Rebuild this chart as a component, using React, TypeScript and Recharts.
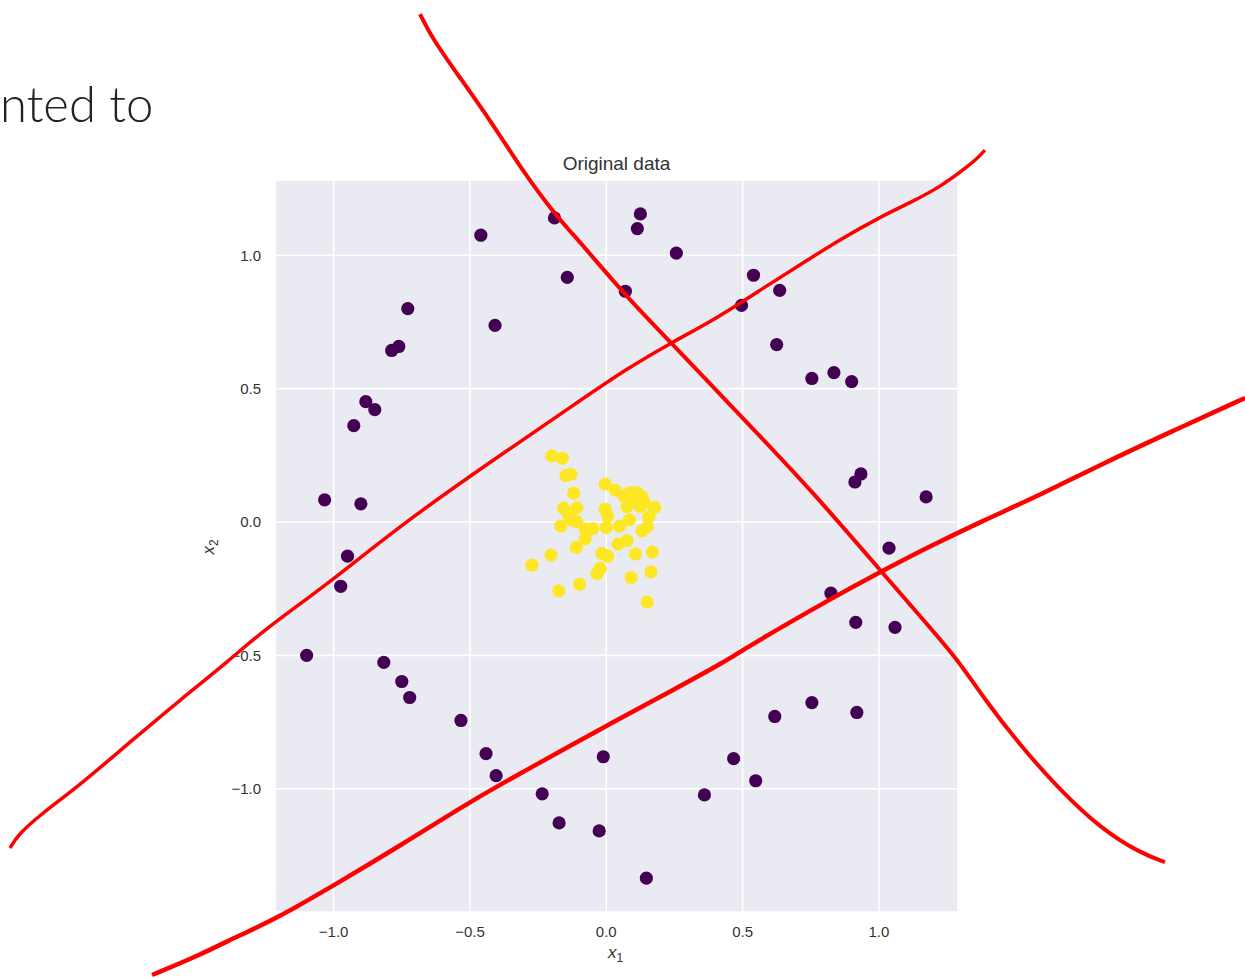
import React from 'react';
import {
  ScatterChart,
  Scatter,
  XAxis,
  YAxis,
  CartesianGrid,
  Label,
  LineChart,
  Line,
} from 'recharts';

// ---------- data ----------
const outerX = [
  -0.46, -0.19, 0.125, 0.114, 0.257, -0.143, 0.07, 0.54, 0.636, 0.496,
  -0.728, -0.408, -0.761, -0.787, 0.625, 0.754, 0.835, 0.9, -0.882, -0.849,
  -0.926, 0.934, 0.912, 1.173, -1.033, -0.9, 1.037, -0.949, -0.974, 0.824,
  0.915, 1.059, -1.099, -0.816, -0.75, -0.721, -0.533, -0.441, -0.404, -0.011,
  -0.235, -0.173, -0.026, 0.147, 0.36, 0.467, 0.548, 0.618, 0.754, 0.919,
];
const outerY = [
  1.075, 1.14, 1.155, 1.1, 1.008, 0.917, 0.865, 0.925, 0.868, 0.812,
  0.8, 0.737, 0.658, 0.643, 0.665, 0.538, 0.56, 0.526, 0.451, 0.421,
  0.361, 0.18, 0.15, 0.094, 0.083, 0.068, -0.098, -0.128, -0.241, -0.267,
  -0.376, -0.395, -0.5, -0.526, -0.598, -0.658, -0.744, -0.868, -0.951, -0.88,
  -1.019, -1.128, -1.158, -1.335, -1.023, -0.887, -0.97, -0.729, -0.677, -0.714,
];
const innerX = [
  -0.2, -0.161, -0.148, -0.13, -0.12, -0.004, 0.033, 0.064, 0.088, 0.113,
  0.131, 0.076, 0.125, 0.178, -0.157, -0.108, -0.004, 0.005, 0.156, -0.139,
  -0.167, -0.108, -0.077, -0.049, 0.0, 0.049, 0.15, 0.131, -0.077, -0.11,
  0.043, 0.076, -0.016, 0.005, 0.107, 0.169, -0.203, -0.273, -0.022, -0.034,
  0.091, 0.164, -0.098, -0.174, 0.15, 0.1, 0.119, 0.14, -0.132, 0.085,
];
const innerY = [
  0.248, 0.239, 0.174, 0.179, 0.108, 0.142, 0.12, 0.098, 0.11, 0.11,
  0.095, 0.058, 0.058, 0.054, 0.052, 0.054, 0.048, 0.023, 0.018, 0.03,
  -0.015, 0.001, -0.027, -0.025, -0.02, -0.015, -0.018, -0.033, -0.063, -0.095,
  -0.083, -0.07, -0.118, -0.128, -0.12, -0.113, -0.124, -0.162, -0.174, -0.193,
  -0.208, -0.187, -0.234, -0.258, -0.3, 0.089, 0.076, 0.073, 0.008, 0.008,
];

// hand-drawn red annotation strokes (in data units)
const strokeAX = [-0.683, -0.639, -0.544, -0.426, -0.309, -0.192, -0.126, -0.056, 0.076, 0.245, 0.413, 0.542, 0.751, 1.011, 1.173, 1.29, 1.389, 1.517, 1.664, 1.811, 1.958, 2.049];
const strokeAY = [1.904, 1.814, 1.676, 1.507, 1.319, 1.158, 1.083, 1.001, 0.843, 0.664, 0.484, 0.345, 0.12, -0.188, -0.379, -0.517, -0.667, -0.836, -1.005, -1.147, -1.241, -1.275];
const strokeBX = [-2.187, -2.158, -2.077, -1.93, -1.747, -1.563, -1.38, -1.27, -1.017, -0.764, -0.426, -0.093, 0.076, 0.237, 0.413, 0.582, 0.751, 0.854, 1.004, 1.121, 1.224, 1.308, 1.363, 1.389];
const strokeBY = [-1.222, -1.173, -1.098, -0.986, -0.825, -0.667, -0.517, -0.416, -0.229, -0.019, 0.225, 0.457, 0.575, 0.671, 0.768, 0.881, 0.99, 1.057, 1.143, 1.2, 1.256, 1.319, 1.364, 1.394];
const strokeCX = [-1.666, -1.49, -1.343, -1.219, -0.984, -0.764, -0.529, -0.393, -0.093, -0.008, 0.245, 0.447, 0.498, 0.835, 1.004, 1.173, 1.371, 1.591, 1.811, 2.068, 2.343];
const strokeCY = [-1.698, -1.623, -1.548, -1.492, -1.353, -1.218, -1.068, -0.986, -0.817, -0.769, -0.63, -0.517, -0.48, -0.281, -0.188, -0.098, 0.0, 0.101, 0.214, 0.337, 0.465];

const tickValues = [-1.0, -0.5, 0.0, 0.5, 1.0];
const titleText = 'Original data';
const slideText = 'nted to';

// ---------- layout ----------
const W = 1245;
const H = 979;
const PLOT = { left: 275, top: 180, right: 958, bottom: 912 };
const X_DOMAIN: [number, number] = [-1.215, 1.29];
const Y_DOMAIN: [number, number] = [-1.462, 1.282];
const YAXIS_W = 60;
const XAXIS_H = 50;

const pxPerX = (PLOT.right - PLOT.left) / (X_DOMAIN[1] - X_DOMAIN[0]);
const pxPerY = (PLOT.bottom - PLOT.top) / (Y_DOMAIN[1] - Y_DOMAIN[0]);
const OV_X: [number, number] = [
  X_DOMAIN[0] - PLOT.left / pxPerX,
  X_DOMAIN[1] + (W - PLOT.right) / pxPerX,
];
const OV_Y: [number, number] = [
  Y_DOMAIN[0] - (H - PLOT.bottom) / pxPerY,
  Y_DOMAIN[1] + PLOT.top / pxPerY,
];

const zip = (xs: number[], ys: number[]) => xs.map((x, i) => ({ x, y: ys[i] }));
const outerData = zip(outerX, outerY);
const innerData = zip(innerX, innerY);
const strokeA = zip(strokeAX, strokeAY);
const strokeB = zip(strokeBX, strokeBY);
const strokeC = zip(strokeCX, strokeCY);

const FONT = '"Liberation Sans", Arial, Helvetica, sans-serif';
const fmt = (v: number) => (v < 0 ? `\u2212${Math.abs(v).toFixed(1)}` : v.toFixed(1));

const dot = (color: string) => (props: any) =>
  props.cx == null ? <g /> : <circle cx={props.cx} cy={props.cy} r={6.6} fill={color} />;

const XLabel = (props: any) => {
  const vb = props.viewBox || {};
  const cx = vb.x + vb.width / 2 - 1;
  const cy = vb.y + 46;
  return (
    <text x={cx} y={cy} textAnchor="middle" fill="#333" fontFamily={FONT} fontSize={17}>
      <tspan fontStyle="italic">x</tspan>
      <tspan fontSize={12} dy={4}>1</tspan>
    </text>
  );
};

const YLabel = (props: any) => {
  const vb = props.viewBox || {};
  const cx = vb.x - 1;
  const cy = vb.y + vb.height / 2 + 1;
  return (
    <text
      x={cx}
      y={cy}
      textAnchor="middle"
      fill="#333"
      fontFamily={FONT}
      fontSize={17}
      transform={`rotate(-90 ${cx} ${cy})`}
    >
      <tspan fontStyle="italic">x</tspan>
      <tspan fontSize={12} dy={4}>2</tspan>
    </text>
  );
};

export default function App() {
  return (
    <div style={{ position: 'absolute', left: 0, top: 0, width: W, height: H, background: '#fff', overflow: 'hidden' }}>
      <svg width={W} height={H} style={{ position: 'absolute', left: 0, top: 0 }}>
        <text
          x={0}
          y={122}
          textAnchor="start"
          fill="#222"
          fontFamily='Lato, "Noto Sans", sans-serif'
          fontWeight={300}
          fontSize={49}
        >
          {slideText}
        </text>
        <text x={(PLOT.left + PLOT.right) / 2} y={170} textAnchor="middle" fill="#333" fontFamily={FONT} fontSize={19}>
          {titleText}
        </text>
      </svg>

      <div style={{ position: 'absolute', left: 0, top: 0 }}>
        <ScatterChart
          width={W}
          height={H}
          margin={{
            top: PLOT.top,
            left: PLOT.left - YAXIS_W,
            right: W - PLOT.right,
            bottom: H - PLOT.bottom - XAXIS_H,
          }}
        >
          <CartesianGrid fill="#EAEAF2" fillOpacity={1} stroke="#ffffff" strokeWidth={1.6} />
          <XAxis
            type="number"
            dataKey="x"
            domain={X_DOMAIN}
            allowDataOverflow
            ticks={tickValues}
            tickFormatter={fmt}
            axisLine={false}
            tickLine={false}
            tickMargin={8}
            height={XAXIS_H}
            tick={{ fill: '#333', fontSize: 15, fontFamily: FONT }}
          >
            <Label content={<XLabel />} />
          </XAxis>
          <YAxis
            type="number"
            dataKey="y"
            domain={Y_DOMAIN}
            allowDataOverflow
            ticks={tickValues}
            tickFormatter={fmt}
            axisLine={false}
            tickLine={false}
            tickMargin={8}
            width={YAXIS_W}
            tick={{ fill: '#333', fontSize: 15, fontFamily: FONT }}
          >
            <Label content={<YLabel />} />
          </YAxis>
          <Scatter data={outerData} fill="#440154" shape={dot('#440154')} isAnimationActive={false} />
          <Scatter data={innerData} fill="#FDE725" shape={dot('#FDE725')} isAnimationActive={false} />
        </ScatterChart>
      </div>

      <div style={{ position: 'absolute', left: 0, top: 0, pointerEvents: 'none' }}>
        <LineChart width={W} height={H} margin={{ top: 0, left: 0, right: 0, bottom: 0 }}>
          <XAxis type="number" dataKey="x" domain={OV_X} allowDataOverflow hide />
          <YAxis type="number" dataKey="y" domain={OV_Y} allowDataOverflow hide />
          <Line data={strokeA} dataKey="y" type="basis" stroke="#ff0000" strokeWidth={4} dot={false} isAnimationActive={false} />
          <Line data={strokeB} dataKey="y" type="basis" stroke="#ff0000" strokeWidth={3.5} dot={false} isAnimationActive={false} />
          <Line data={strokeC} dataKey="y" type="basis" stroke="#ff0000" strokeWidth={4.5} dot={false} isAnimationActive={false} />
        </LineChart>
      </div>
    </div>
  );
}
